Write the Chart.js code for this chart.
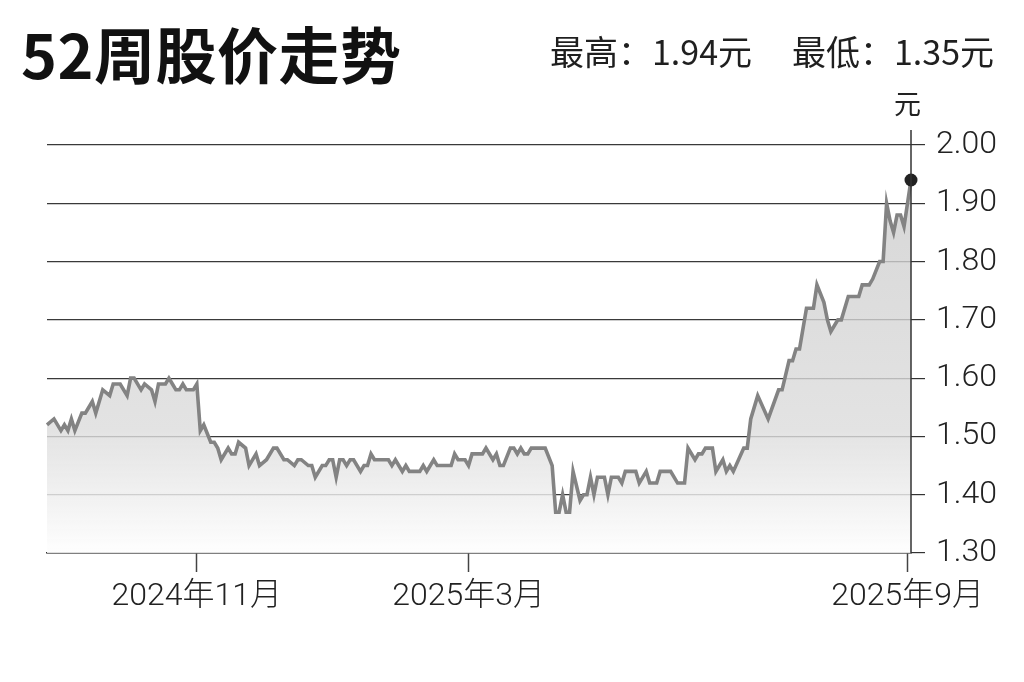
<!DOCTYPE html>
<html lang="zh-CN">
<head>
<meta charset="utf-8">
<title>52周股价走势</title>
<script src="https://cdn.jsdelivr.net/npm/chart.js@4.4.1/dist/chart.umd.min.js"></script>
<style>
    html, body {
        margin: 0;
        padding: 0;
        background: #fff;
    }
    .wrap {
        position: relative;
        width: 1024px;
        height: 682px;
        overflow: hidden;
        font-family: 'Noto Sans CJK SC', 'Noto Sans', sans-serif;
        color: #1a1a1a;
    }
    .title {
        position: absolute;
        left: 21px;
        top: 22px;
        font-size: 61px;
        line-height: 61px;
        font-weight: 700;
        letter-spacing: 0.5px;
        color: #111;
    }
    .stat {
        position: absolute;
        top: 32px;
        font-size: 34px;
        line-height: 38px;
        color: #1f1f1f;
    }
    .unit {
        position: absolute;
        left: 894px;
        top: 88px;
        font-size: 27px;
        line-height: 30px;
        color: #222;
    }
    canvas {
        position: absolute;
        left: 0;
        top: 0;
    }
</style>
</head>
<body>
<div class="wrap">
    <canvas id="priceChart" width="1024" height="682"></canvas>
    <div class="title">52周股价走势</div>
    <div class="stat" style="left:550px;">最高：1.94元</div>
    <div class="stat" style="left:792px;">最低：1.35元</div>
    <div class="unit">元</div>
</div>
<script>
// 交易日序号（从起点开始计）
const tradeDay = [
    0, 2, 4, 5, 6, 7, 8, 10, 11, 13, 14, 15, 16, 18, 19, 21, 23, 24, 25, 27, 28, 30, 31, 32,
    34, 35, 36, 37, 38, 39, 40, 42, 43, 44, 45, 47, 48, 49, 50, 52, 53, 54, 55, 57, 58, 60, 61,
    63, 65, 66, 68, 69, 71, 72, 73, 75, 76, 77, 79, 80, 81, 82, 83, 84, 85, 86, 87, 88, 90, 91,
    92, 93, 94, 97, 98, 99, 100, 102, 103, 104, 107, 108, 109, 111, 112, 116, 117, 118, 120, 121,
    122, 124, 125, 126, 128, 129, 130, 131, 133, 134, 135, 136, 137, 138, 139, 143, 145, 146, 147,
    148, 149, 150, 151, 153, 154, 155, 156, 157, 158, 160, 161, 162, 164, 165, 166, 169, 170, 172,
    173, 175, 176, 179, 181, 183, 184, 186, 187, 188, 189, 191, 192, 194, 195, 196, 197, 200, 201,
    202, 204, 207, 210, 211, 213, 214, 215, 216, 218, 220, 221, 223, 224, 225, 227, 228, 230, 233,
    234, 236, 237, 239, 240, 241, 242, 243, 244, 245, 246, 248
];

// 收盘价（元）
const closePrice = [
    1.52, 1.53, 1.51, 1.52, 1.51, 1.53, 1.51, 1.54, 1.54, 1.56, 1.54, 1.56, 1.58, 1.57, 1.59, 1.59, 1.57, 1.60, 1.60, 1.58, 1.59, 1.58, 1.56, 1.59,
    1.59, 1.60, 1.59, 1.58, 1.58, 1.59, 1.58, 1.58, 1.59, 1.51, 1.52, 1.49, 1.49, 1.48, 1.46, 1.48, 1.47, 1.47, 1.49, 1.48, 1.45, 1.47, 1.45,
    1.46, 1.48, 1.48, 1.46, 1.46, 1.45, 1.46, 1.46, 1.45, 1.45, 1.43, 1.45, 1.45, 1.46, 1.46, 1.43, 1.46, 1.46, 1.45, 1.46, 1.46, 1.44, 1.45,
    1.45, 1.47, 1.46, 1.46, 1.46, 1.45, 1.46, 1.44, 1.45, 1.44, 1.44, 1.45, 1.44, 1.46, 1.45, 1.45, 1.47, 1.46, 1.46, 1.45,
    1.47, 1.47, 1.47, 1.48, 1.46, 1.47, 1.45, 1.45, 1.48, 1.48, 1.47, 1.48, 1.47, 1.47, 1.48, 1.48, 1.45, 1.37, 1.37,
    1.40, 1.37, 1.37, 1.44, 1.39, 1.40, 1.40, 1.43, 1.40, 1.43, 1.43, 1.40, 1.43, 1.43, 1.42, 1.44, 1.44, 1.42, 1.44,
    1.42, 1.42, 1.44, 1.44, 1.42, 1.42, 1.48, 1.46, 1.47, 1.47, 1.48, 1.48, 1.44, 1.46, 1.44, 1.45, 1.44, 1.48, 1.48,
    1.53, 1.57, 1.53, 1.58, 1.58, 1.63, 1.63, 1.65, 1.65, 1.72, 1.72, 1.76, 1.73, 1.70, 1.68, 1.70, 1.70, 1.74, 1.74,
    1.76, 1.76, 1.77, 1.80, 1.80, 1.90, 1.87, 1.85, 1.88, 1.88, 1.86, 1.94
];

// 横轴刻度
const monthTickDay = [43, 121, 247];
const monthTickText = ['2024年11月', '2025年3月', '2025年9月'];

// 纵轴刻度
const priceMin = 1.3;
const priceMax = 2.0;
const priceStep = 0.1;

const tickFont = {
    family: "Roboto, 'Noto Sans CJK SC', sans-serif",
    size: 32,
    weight: '300'
};

// 右侧纵轴线，向上伸出一点
const axisLinePlugin = {
    id: 'axisLine',
    afterDatasetsDraw(chart) {
        const { ctx, chartArea } = chart;
        ctx.save();
        ctx.strokeStyle = '#333';
        ctx.lineWidth = 1.5;
        ctx.beginPath();
        ctx.moveTo(chartArea.right, chartArea.top - 15);
        ctx.lineTo(chartArea.right, chartArea.bottom);
        ctx.stroke();
        ctx.restore();
    }
};

function areaGradient(context) {
    const { ctx, chartArea } = context.chart;
    if (!chartArea) return 'rgba(225,225,225,0.8)';
    const g = ctx.createLinearGradient(0, chartArea.top, 0, chartArea.bottom);
    g.addColorStop(0, 'rgba(203,203,203,0.8)');
    g.addColorStop(0.7, 'rgba(220,220,220,0.8)');
    g.addColorStop(1, 'rgba(254,254,254,0.85)');
    return g;
}

new Chart(document.getElementById('priceChart'), {
    type: 'line',
    data: {
        datasets: [{
            data: tradeDay.map((d, i) => ({ x: d, y: closePrice[i] })),
            borderColor: '#838383',
            borderWidth: 3.6,
            backgroundColor: areaGradient,
            fill: 'start',
            tension: 0,
            clip: false,
            pointRadius: ctx => ctx.dataIndex === closePrice.length - 1 ? 6.5 : 0,
            pointHoverRadius: 0,
            pointBackgroundColor: '#222',
            pointBorderWidth: 0
        }]
    },
    options: {
        responsive: false,
        animation: false,
        layout: {
            padding: { left: 47, top: 145, right: 0, bottom: 0 }
        },
        plugins: {
            legend: { display: false },
            tooltip: { enabled: false }
        },
        scales: {
            x: {
                type: 'linear',
                min: tradeDay[0],
                max: tradeDay[tradeDay.length - 1],
                z: 1,
                afterFit(scale) {
                    scale.height = 129;
                },
                afterBuildTicks(scale) {
                    scale.ticks = monthTickDay.map(v => ({ value: v }));
                },
                grid: {
                    display: true,
                    drawOnChartArea: false,
                    drawTicks: true,
                    tickLength: 19,
                    tickColor: '#444',
                    tickWidth: 1.5
                },
                border: {
                    display: true,
                    color: '#333',
                    width: 1.5
                },
                ticks: {
                    autoSkip: false,
                    maxRotation: 0,
                    padding: 6,
                    color: '#222',
                    font: tickFont,
                    callback: value => monthTickText[monthTickDay.indexOf(value)]
                }
            },
            y: {
                position: 'right',
                min: priceMin,
                max: priceMax,
                afterFit(scale) {
                    scale.width = 113;
                },
                grid: {
                    color: '#3a3a3a',
                    lineWidth: 1.2,
                    drawTicks: true,
                    tickLength: 14,
                    tickColor: '#333'
                },
                border: { display: false },
                ticks: {
                    stepSize: priceStep,
                    padding: 11,
                    color: '#222',
                    font: tickFont,
                    callback: value => Number(value).toFixed(2)
                }
            }
        }
    },
    plugins: [axisLinePlugin]
});
</script>
</body>
</html>
